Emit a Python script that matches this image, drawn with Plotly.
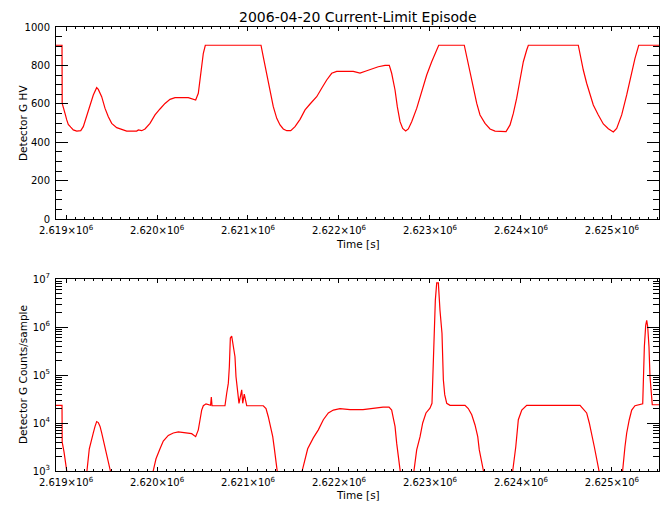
import plotly.graph_objects as go

# ---------------- data ----------------
t_hv = [2618890, 2618956, 2618958, 2618970, 2618989, 2619008, 2619025, 2619052, 2619080, 2619118,
        2619162, 2619190, 2619227, 2619264, 2619300, 2619337, 2619355, 2619392, 2619429, 2619465,
        2619502, 2619557, 2619612, 2619667, 2619777, 2619795, 2619832, 2619868, 2619923, 2619978,
        2620033, 2620088, 2620143, 2620198, 2620344, 2620399, 2620425, 2620454, 2620473, 2620491,
        2620509, 2620531, 2621143, 2621168, 2621206, 2621242, 2621278, 2621316, 2621352, 2621388,
        2621426, 2621470, 2621517, 2621572, 2621627, 2621682, 2621755, 2621810, 2621865, 2621920,
        2621975, 2622157, 2622231, 2622305, 2622377, 2622432, 2622506, 2622553, 2622579, 2622616,
        2622641, 2622671, 2622700, 2622733, 2622762, 2622799, 2622854, 2622909, 2622964, 2623019,
        2623066, 2623096, 2623377, 2623404, 2623440, 2623476, 2623514, 2623550, 2623605, 2623660,
        2623715, 2623836, 2623880, 2623916, 2623953, 2623989, 2624026, 2624063, 2624081, 2624630,
        2624649, 2624685, 2624722, 2624759, 2624795, 2624850, 2624905, 2624960, 2625015, 2625052,
        2625107, 2625162, 2625217, 2625253, 2625294, 2625517]
hv = [905, 905, 602, 585, 550, 516, 493, 478, 464, 458,
      460, 481, 533, 594, 646, 684, 675, 637, 576, 533,
      498, 476, 465, 458, 458, 464, 460, 469, 498, 542,
      573, 602, 623, 632, 632, 625, 620, 655, 724, 793,
      863, 905, 905, 845, 759, 672, 585, 524, 490, 469,
      460, 460, 481, 519, 568, 599, 637, 681, 724, 759,
      769, 769, 760, 772, 785, 793, 800, 800, 759, 672,
      585, 507, 472, 458, 469, 507, 576, 663, 750, 819,
      877, 905, 905, 845, 759, 672, 602, 542, 498, 469,
      458, 455, 490, 550, 629, 724, 819, 880, 905, 905,
      854, 776, 707, 646, 594, 542, 495, 470, 453, 472,
      542, 646, 767, 837, 905, 905]

t_cnt = [2618890, 2618956, 2618958, 2618978, 2619008, 2619022, 2619198, 2619230, 2619256, 2619282,
         2619300, 2619319, 2619337, 2619355, 2619374, 2619392, 2619410, 2619432, 2619488, 2619506,
         2619934, 2619958, 2619989, 2620033, 2620069, 2620124, 2620179, 2620234, 2620327, 2620381,
         2620425, 2620454, 2620473, 2620491, 2620509, 2620539, 2620589, 2620597, 2620605, 2620747,
         2620766, 2620784, 2620795, 2620806, 2620821, 2620839, 2620857, 2620868, 2620883, 2620901,
         2620931, 2620942, 2620959, 2620986, 2621168, 2621198, 2621223, 2621250, 2621272, 2621290,
         2621322, 2621341, 2621572, 2621595, 2621656, 2621718, 2621773, 2621828, 2621883, 2621938,
         2622011, 2622121, 2622264, 2622341, 2622484, 2622550, 2622579, 2622597, 2622616, 2622634,
         2622645, 2622672, 2622693, 2622803, 2622827, 2622854, 2622891, 2622920, 2622956, 2623000,
         2623022, 2623030, 2623044, 2623059, 2623074, 2623092, 2623110, 2623132, 2623147, 2623162,
         2623184, 2623220, 2623385, 2623421, 2623459, 2623495, 2623525, 2623542, 2623588, 2623605,
         2623880, 2623909, 2623943, 2623971, 2624009, 2624063, 2624649, 2624685, 2624722, 2624751,
         2624777, 2624806, 2624858, 2624880, 2625088, 2625117, 2625143, 2625162, 2625190, 2625217,
         2625253, 2625338, 2625345, 2625356, 2625371, 2625382, 2625393, 2625407, 2625418, 2625429,
         2625443, 2625517]
counts = [23400, 23400, 4000, 2500, 1000, 500, 500, 1000, 2900, 4900,
          6200, 8500, 10700, 10200, 8500, 6200, 4500, 2750, 1000, 500,
          500, 1000, 1800, 2900, 4200, 5500, 6200, 6500, 6300, 6000,
          5200, 7200, 11700, 18600, 22900, 25100, 23400, 34700, 22900, 22900,
          41700, 67600, 148000, 589000, 646000, 427000, 240000, 93300, 57500, 25700,
          49000, 25700, 39800, 22900, 22900, 20000, 13500, 8500, 5200, 2900,
          1000, 500, 500, 1000, 2900, 4900, 7200, 11700, 16200, 18600,
          20000, 19000, 19000, 20000, 21400, 21400, 18600, 12600, 8500, 3800,
          2750, 1000, 500, 500, 1000, 2750, 5200, 10000, 16200, 20400,
          25700, 93300, 794000, 3630000, 8300000, 8300000, 2240000, 741000, 79400, 38900,
          25700, 23400, 23400, 20000, 14800, 9100, 5200, 2750, 1000, 500,
          500, 1000, 3200, 11700, 18600, 23400, 23400, 20000, 16200, 10000,
          6200, 3200, 1000, 500, 500, 1000, 3200, 6200, 11700, 18600,
          22900, 25100, 72400, 389000, 1100000, 1380000, 1000000, 389000, 93300, 41700,
          24000, 24000]

x_tickvals = [2619000, 2620000, 2621000, 2622000, 2623000, 2624000, 2625000]
x_ticktext = ["2.619×10<sup>6</sup>", "2.620×10<sup>6</sup>", "2.621×10<sup>6</sup>",
              "2.622×10<sup>6</sup>", "2.623×10<sup>6</sup>", "2.624×10<sup>6</sup>",
              "2.625×10<sup>6</sup>"]
hv_tickvals = [0, 200, 400, 600, 800, 1000]
cnt_tickvals = [1e3, 1e4, 1e5, 1e6, 1e7]
cnt_ticktext = ["10<sup>3</sup>", "10<sup>4</sup>", "10<sup>5</sup>", "10<sup>6</sup>", "10<sup>7</sup>"]
cnt_minor = [m * 10 ** e for e in range(3, 7) for m in range(2, 10)]

title_text = "2006-04-20 Current-Limit Episode"
xlabel = "Time [s]"
ylabel_hv = "Detector G HV"
ylabel_cnt = "Detector G Counts/sample"

# ---------------- figure ----------------
W, H = 670, 511
L, R = 56, 659
T1, B1 = 27, 219
T2, B2 = 279, 471

def px(x):
    return x / W

def py(y):
    return 1 - y / H

FONT = dict(family="DejaVu Sans", size=10, color="black")
TFONT = dict(family="DejaVu Sans", size=10.5, color="black")
XRANGE = [2618890, 2625517]

fig = go.Figure()
fig.add_trace(go.Scatter(x=t_hv, y=hv, mode="lines", xaxis="x", yaxis="y",
                         line=dict(color="#ff0000", width=1.2), showlegend=False))
fig.add_trace(go.Scatter(x=t_cnt, y=counts, mode="lines", xaxis="x2", yaxis="y2",
                         line=dict(color="#ff0000", width=1.2), showlegend=False))

xcommon = dict(range=XRANGE, showgrid=False, zeroline=False, showline=True, linecolor="black",
               linewidth=1, mirror="allticks", ticks="inside", ticklen=4, tickwidth=1,
               tickcolor="black", tickmode="array", tickvals=x_tickvals, ticktext=x_ticktext,
               tickfont=FONT, ticklabelstandoff=2,
               minor=dict(ticks="inside", ticklen=2, tickcolor="black", dtick=100,
                          tick0=2619000, showgrid=False))

fig.update_layout(
    width=W, height=H, margin=dict(l=0, r=0, t=0, b=0, autoexpand=False),
    paper_bgcolor="white", plot_bgcolor="white", showlegend=False,
    xaxis=dict(domain=[px(L), px(R)], anchor="y", **xcommon),
    xaxis2=dict(domain=[px(L), px(R)], anchor="y2", **xcommon),
    yaxis=dict(domain=[py(B1), py(T1)], anchor="x", range=[0, 1000], showgrid=False,
               zeroline=False, showline=True, linecolor="black", linewidth=1,
               mirror="allticks", ticks="inside", ticklen=12, tickcolor="black",
               tickmode="array", tickvals=hv_tickvals, tickfont=FONT, ticklabelstandoff=3,
               minor=dict(ticks="inside", ticklen=6, tickcolor="black", dtick=50,
                          showgrid=False)),
    yaxis2=dict(domain=[py(B2), py(T2)], anchor="x2", type="log", range=[3, 7],
                showgrid=False, zeroline=False, showline=True, linecolor="black", linewidth=1,
                mirror="allticks", ticks="inside", ticklen=12, tickcolor="black",
                tickmode="array", tickvals=cnt_tickvals, ticktext=cnt_ticktext,
                tickfont=FONT, ticklabelstandoff=3,
                minor=dict(ticks="inside", ticklen=6, tickcolor="black", tickmode="array",
                           tickvals=cnt_minor, showgrid=False)),
)

ann = [
    dict(text=title_text, x=px((L + R) / 2), y=py(17), font=dict(family="DejaVu Sans", size=14, color="black")),
    dict(text=xlabel, x=px((L + R) / 2), y=py(244), font=TFONT),
    dict(text=xlabel, x=px((L + R) / 2), y=py(495), font=TFONT),
    dict(text=ylabel_hv, x=px(23), y=py((T1 + B1) / 2), textangle=-90, font=TFONT),
    dict(text=ylabel_cnt, x=px(23), y=py((T2 + B2) / 2), textangle=-90, font=TFONT),
]
for a in ann:
    fig.add_annotation(xref="paper", yref="paper", showarrow=False, xanchor="center",
                       yanchor="middle", **a)

fig.write_html("out.html", config={"displayModeBar": False},
               post_script="document.body.style.margin='0';document.body.style.padding='0';")
